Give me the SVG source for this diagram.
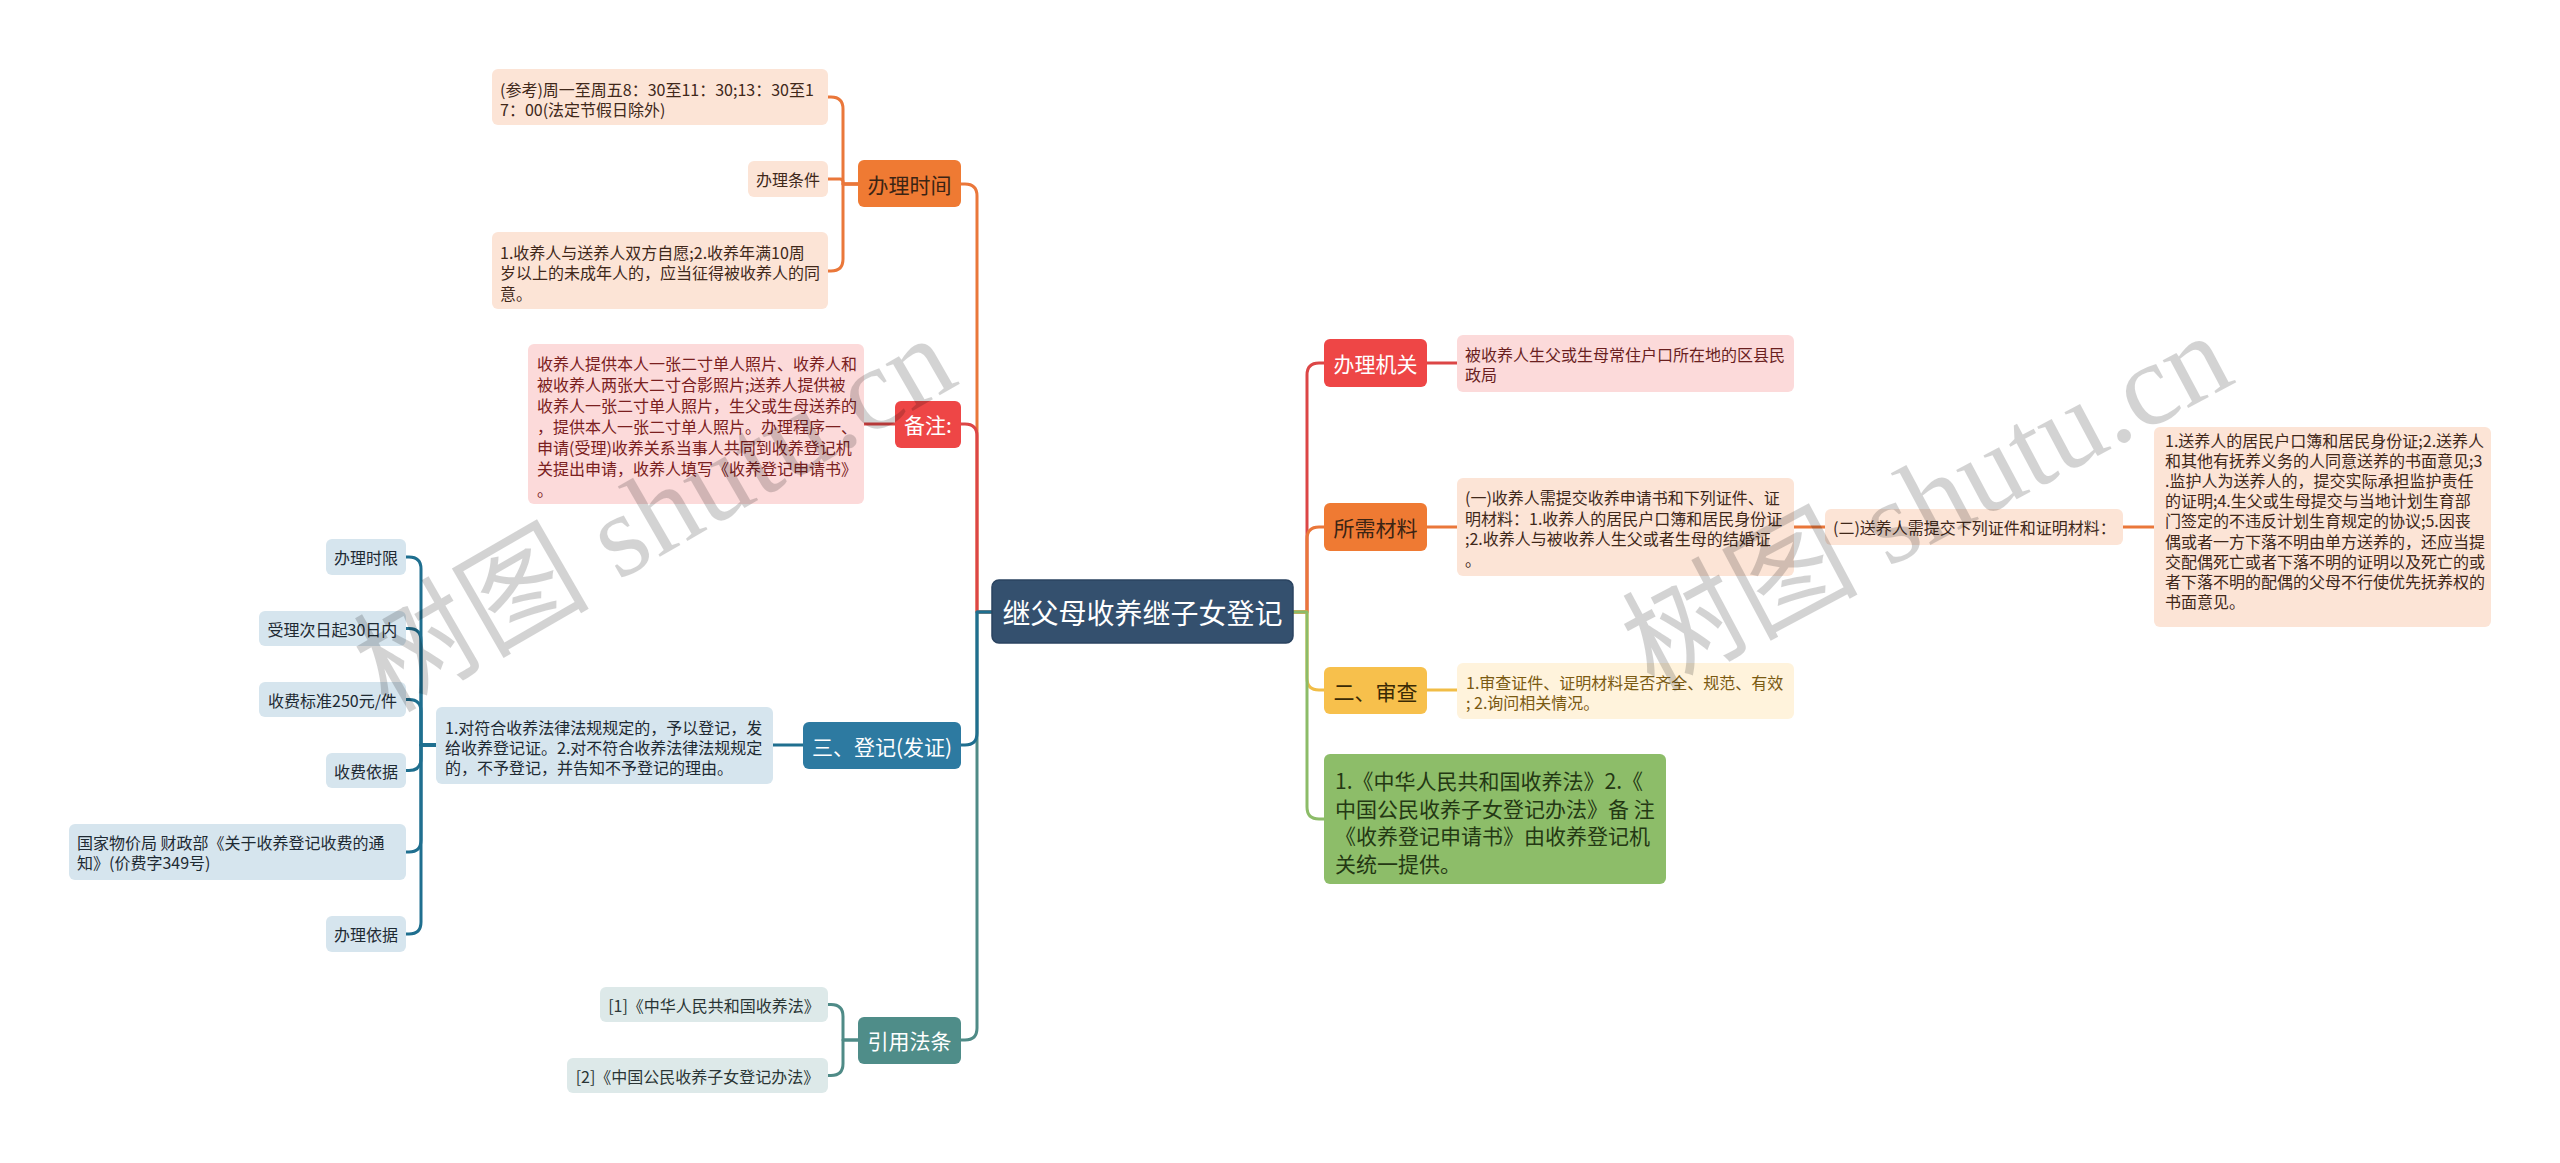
<svg xmlns="http://www.w3.org/2000/svg" width="2560" height="1163" viewBox="0 0 2560 1163">
<style>
text{font-family:"Noto Sans CJK SC","Microsoft YaHei",sans-serif;font-size:16px;dominant-baseline:central}
.c{text-anchor:middle}
.l1{font-size:21px}
.root{font-size:28px;fill:#fff}
.w{fill:#fff}
.edge{fill:none;stroke-width:3;stroke-linecap:round;stroke-linejoin:round}
.or{stroke:#ea773a}.rd{stroke:#dc4646}.bl{stroke:#1f6f8f}.tl{stroke:#4f8b87}.ye{stroke:#f1bd47}.gr{stroke:#8cbc68}
.wm{font-family:"Liberation Serif","Noto Sans CJK SC",serif;font-size:118px;fill:#000;opacity:0.17;text-anchor:middle;dominant-baseline:central}
</style>
<rect width="2560" height="1163" fill="#fff"/>
<g id="connectors">
<path class="edge or" d="M992 612 H977 V196 Q977 184 965 184 H961"/>
<path class="edge rd" d="M992 612 H977 V436 Q977 424 965 424 H961"/>
<path class="edge tl" d="M992 612 H977 V1028 Q977 1040 965 1040 H961"/>
<path class="edge bl" d="M992 612 H977 V733 Q977 745 965 745 H961"/>
<path class="edge rd" d="M1293 612 H1307 V375 Q1307 363 1319 363 H1324"/>
<path class="edge or" d="M1293 612 H1307 V539 Q1307 527 1319 527 H1324"/>
<path class="edge ye" d="M1293 612 H1307 V678 Q1307 690 1319 690 H1324"/>
<path class="edge gr" d="M1293 612 H1307 V807 Q1307 819 1319 819 H1324"/>
<path class="edge or" d="M858 184 H843 V109 Q843 97 831 97 H828"/>
<path class="edge or" d="M858 184 H843 V182 Q843 179 840 179 H828"/>
<path class="edge or" d="M858 184 H843 V259 Q843 271 831 271 H828"/>
<path class="edge rd" d="M895 424 H864"/>
<path class="edge bl" d="M803 745 H773"/>
<path class="edge bl" d="M436 745 H421 V569 Q421 557 409 557 H406"/>
<path class="edge bl" d="M436 745 H421 V640.5 Q421 628.5 409 628.5 H406"/>
<path class="edge bl" d="M436 745 H421 V711.5 Q421 699.5 409 699.5 H406"/>
<path class="edge bl" d="M436 745 H421 V758.5 Q421 770.5 409 770.5 H406"/>
<path class="edge bl" d="M436 745 H421 V840 Q421 852 409 852 H406"/>
<path class="edge bl" d="M436 745 H421 V922 Q421 934 409 934 H406"/>
<path class="edge tl" d="M858 1040 H843 V1016.5 Q843 1004.5 831 1004.5 H828"/>
<path class="edge tl" d="M858 1040 H843 V1063.5 Q843 1075.5 831 1075.5 H828"/>
<path class="edge rd" d="M1427 363 H1457"/>
<path class="edge or" d="M1427 527 H1457"/>
<path class="edge or" d="M1794 527 H1825"/>
<path class="edge or" d="M2123 527 H2154"/>
<path class="edge ye" d="M1427 690 H1457"/>
</g>
<g id="root">
<rect x="992" y="580" width="301" height="63" rx="7" fill="#34506e" stroke="#2a4360" stroke-width="1.5"/>
<text class="c root" x="1142.5" y="611.5">继父母收养继子女登记</text>
</g>
<g id="n-time">
<rect x="858" y="160" width="103" height="47" rx="6" fill="#ef7a33"/>
<text class="c l1" x="909.5" y="183.5" fill="#3b2414">办理时间</text>
</g>
<g id="n-time-1">
<rect x="492" y="69" width="336" height="56" rx="6" fill="#fce4d6"/>
<text x="500" fill="#40281a"><tspan x="500" y="89">(参考)周一至周五8：30至11：30;13：30至1</tspan><tspan x="500" y="109">7：00(法定节假日除外)</tspan></text>
</g>
<g id="n-time-2">
<rect x="748" y="161" width="80" height="36" rx="6" fill="#fce4d6"/>
<text class="c" x="788" y="179" fill="#40281a">办理条件</text>
</g>
<g id="n-time-3">
<rect x="492" y="232" width="336" height="77" rx="6" fill="#fce4d6"/>
<text fill="#40281a"><tspan x="500" y="252">1.收养人与送养人双方自愿;2.收养年满10周</tspan><tspan x="500" y="272">岁以上的未成年人的，应当征得被收养人的同</tspan><tspan x="500" y="293">意。</tspan></text>
</g>
<g id="n-note">
<rect x="895" y="401" width="66" height="47" rx="6" fill="#ee4646"/>
<text class="c l1 w" x="928" y="424">备注:</text>
</g>
<g id="n-note-1">
<rect x="528" y="344" width="336" height="160" rx="6" fill="#fcdada"/>
<text fill="#7a2020"><tspan x="537" y="363">收养人提供本人一张二寸单人照片、收养人和</tspan><tspan x="537" y="384">被收养人两张大二寸合影照片;送养人提供被</tspan><tspan x="537" y="405">收养人一张二寸单人照片，生父或生母送养的</tspan><tspan x="537" y="426">，提供本人一张二寸单人照片。办理程序一、</tspan><tspan x="537" y="447">申请(受理)收养关系当事人共同到收养登记机</tspan><tspan x="537" y="468">关提出申请，收养人填写《收养登记申请书》</tspan><tspan x="537" y="489">。</tspan></text>
</g>
<g id="n-reg">
<rect x="803" y="722" width="158" height="47" rx="6" fill="#2d7aa1"/>
<text class="c l1 w" x="882" y="745.5">三、登记(发证)</text>
</g>
<g id="n-reg-1">
<rect x="436" y="707" width="337" height="77" rx="6" fill="#d6e5ee"/>
<text fill="#1e2a33"><tspan x="445" y="727">1.对符合收养法律法规规定的，予以登记，发</tspan><tspan x="445" y="747">给收养登记证。2.对不符合收养法律法规规定</tspan><tspan x="445" y="767">的，不予登记，并告知不予登记的理由。</tspan></text>
</g>
<g id="n-reg-a">
<rect x="326" y="539" width="80" height="36" rx="6" fill="#d6e5ee"/>
<text class="c" x="366" y="557" fill="#1e2a33">办理时限</text>
</g>
<g id="n-reg-b">
<rect x="259" y="611" width="147" height="35" rx="6" fill="#d6e5ee"/>
<text class="c" x="332.5" y="628.5" fill="#1e2a33">受理次日起30日内</text>
</g>
<g id="n-reg-c">
<rect x="259" y="682" width="147" height="35" rx="6" fill="#d6e5ee"/>
<text class="c" x="332.5" y="699.5" fill="#1e2a33">收费标准250元/件</text>
</g>
<g id="n-reg-d">
<rect x="326" y="753" width="80" height="35" rx="6" fill="#d6e5ee"/>
<text class="c" x="366" y="770.5" fill="#1e2a33">收费依据</text>
</g>
<g id="n-reg-e">
<rect x="69" y="824" width="337" height="56" rx="6" fill="#d6e5ee"/>
<text fill="#1e2a33"><tspan x="77" y="842">国家物价局 财政部《关于收养登记收费的通</tspan><tspan x="77" y="862">知》(价费字349号)</tspan></text>
</g>
<g id="n-reg-f">
<rect x="326" y="916" width="80" height="36" rx="6" fill="#d6e5ee"/>
<text class="c" x="366" y="934" fill="#1e2a33">办理依据</text>
</g>
<g id="n-law">
<rect x="858" y="1017" width="103" height="47" rx="6" fill="#4f8d89"/>
<text class="c l1 w" x="909.5" y="1040">引用法条</text>
</g>
<g id="n-law-1">
<rect x="600" y="987" width="228" height="35" rx="6" fill="#dde9e9"/>
<text class="c" x="714" y="1004.5" fill="#2a3535">[1]《中华人民共和国收养法》</text>
</g>
<g id="n-law-2">
<rect x="567" y="1058" width="261" height="35" rx="6" fill="#dde9e9"/>
<text class="c" x="697.5" y="1075.5" fill="#2a3535">[2]《中国公民收养子女登记办法》</text>
</g>
<g id="n-org">
<rect x="1324" y="339" width="103" height="48" rx="6" fill="#ee4646"/>
<text class="c l1 w" x="1375.5" y="363">办理机关</text>
</g>
<g id="n-org-1">
<rect x="1457" y="335" width="337" height="57" rx="6" fill="#fcdada"/>
<text fill="#6a1f1f"><tspan x="1465" y="354">被收养人生父或生母常住户口所在地的区县民</tspan><tspan x="1465" y="374">政局</tspan></text>
</g>
<g id="n-mat">
<rect x="1324" y="503" width="103" height="48" rx="6" fill="#ef7a33"/>
<text class="c l1" x="1375.5" y="527" fill="#3b2414">所需材料</text>
</g>
<g id="n-mat-1">
<rect x="1457" y="478" width="337" height="98" rx="6" fill="#fce4d6"/>
<text fill="#40281a"><tspan x="1465" y="497">(一)收养人需提交收养申请书和下列证件、证</tspan><tspan x="1465" y="517.5">明材料：1.收养人的居民户口簿和居民身份证</tspan><tspan x="1465" y="538">;2.收养人与被收养人生父或者生母的结婚证</tspan><tspan x="1465" y="558.5">。</tspan></text>
</g>
<g id="n-mat-2">
<rect x="1825" y="509" width="298" height="36" rx="6" fill="#fce4d6"/>
<text x="1833" y="527" fill="#40281a">(二)送养人需提交下列证件和证明材料：</text>
</g>
<g id="n-mat-3">
<rect x="2154" y="427" width="337" height="200" rx="6" fill="#fce4d6"/>
<text fill="#40281a"><tspan x="2165" y="440">1.送养人的居民户口簿和居民身份证;2.送养人</tspan><tspan x="2165" y="460.1">和其他有抚养义务的人同意送养的书面意见;3</tspan><tspan x="2165" y="480.2">.监护人为送养人的，提交实际承担监护责任</tspan><tspan x="2165" y="500.3">的证明;4.生父或生母提交与当地计划生育部</tspan><tspan x="2165" y="520.4">门签定的不违反计划生育规定的协议;5.因丧</tspan><tspan x="2165" y="540.5">偶或者一方下落不明由单方送养的，还应当提</tspan><tspan x="2165" y="560.6">交配偶死亡或者下落不明的证明以及死亡的或</tspan><tspan x="2165" y="580.7">者下落不明的配偶的父母不行使优先抚养权的</tspan><tspan x="2165" y="600.8">书面意见。</tspan></text>
</g>
<g id="n-check">
<rect x="1324" y="667" width="103" height="47" rx="6" fill="#f7c04c"/>
<text class="c l1" x="1375.5" y="690.5" fill="#3a2a05">二、审查</text>
</g>
<g id="n-check-1">
<rect x="1457" y="663" width="337" height="56" rx="6" fill="#fff3dc"/>
<text fill="#7a5a12"><tspan x="1466" y="682">1.审查证件、证明材料是否齐全、规范、有效</tspan><tspan x="1466" y="702">; 2.询问相关情况。</tspan></text>
</g>
<g id="n-basis">
<rect x="1324" y="754" width="342" height="130" rx="6" fill="#8dbd69"/>
<text class="l1" fill="#243814"><tspan x="1335" y="780">1.《中华人民共和国收养法》2.《</tspan><tspan x="1335" y="807.5">中国公民收养子女登记办法》备 注</tspan><tspan x="1335" y="835">《收养登记申请书》由收养登记机</tspan><tspan x="1335" y="862.5">关统一提供。</tspan></text>
</g>
<g id="watermark">
<text class="wm" transform="translate(655 514) rotate(-30)">树图 shutu.cn</text>
<text class="wm" transform="translate(1927 502) rotate(-28)">树图 shutu.cn</text>
</g>
</svg>
